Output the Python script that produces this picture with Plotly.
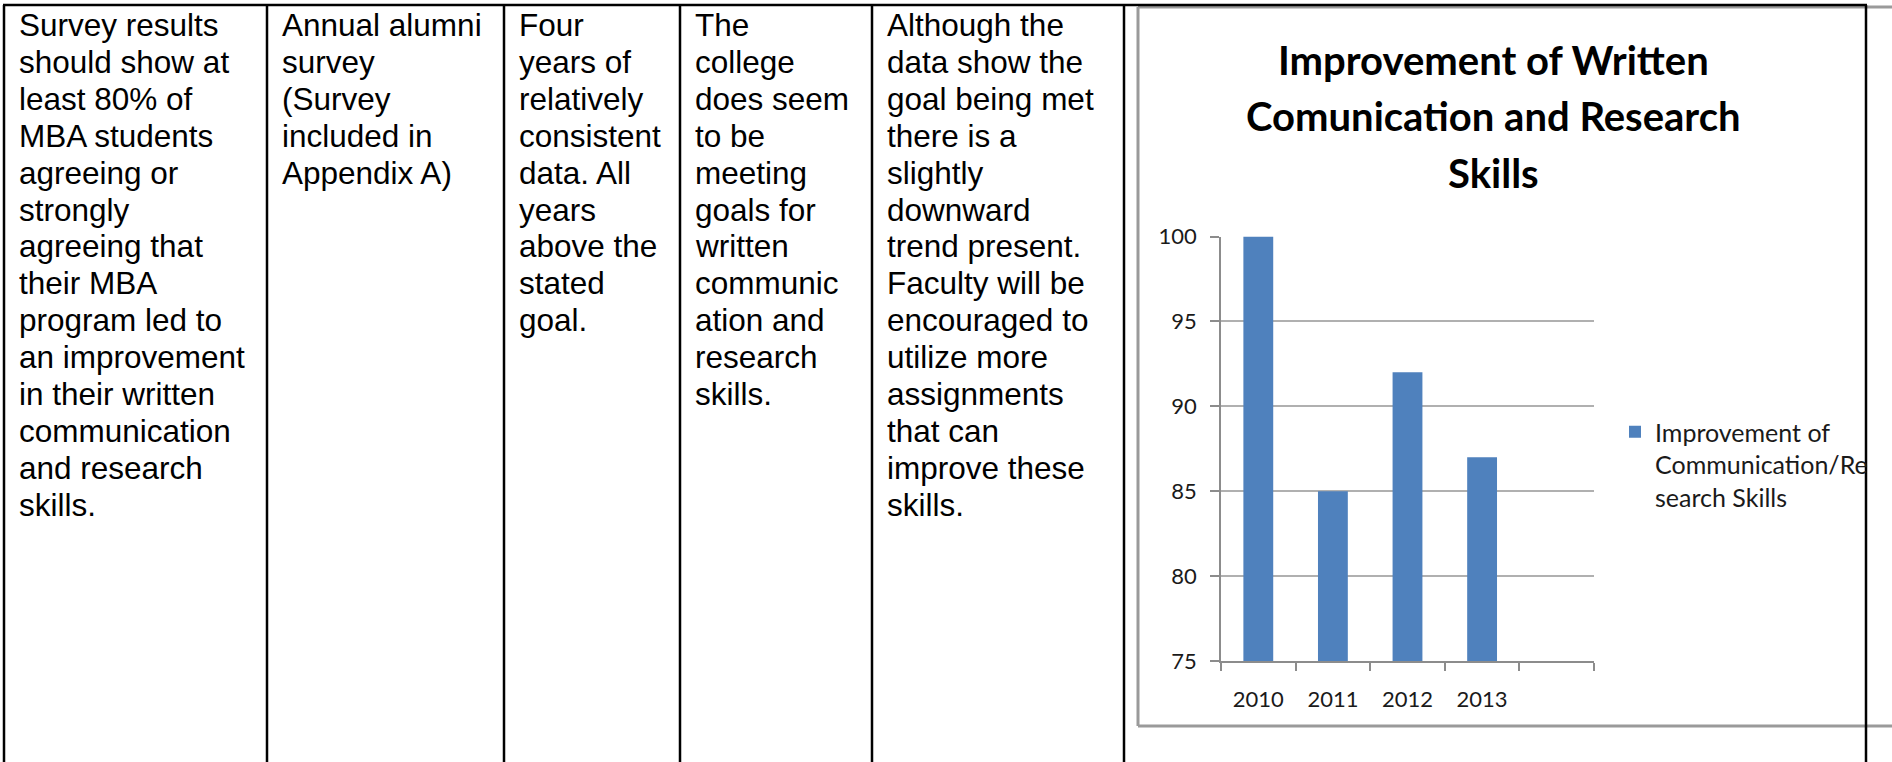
import numpy as np
import plotly.graph_objects as go

W, H = 1892, 762

# ---- chart data ----
years = ["2010", "2011", "2012", "2013"]
improvement = [100, 85, 92, 87]
series_name = "Improvement of<br>Communication/Re<br>search Skills"
title_lines = ["Improvement of Written", "Comunication and Research", "Skills"]
y_ticks = [75, 80, 85, 90, 95, 100]
n_slots = 5  # category slots on the x axis (last one left empty)

# ---- table cell text (one list of lines per column) ----
col_target = ["Survey results", "should show at", "least 80% of", "MBA students",
              "agreeing or", "strongly", "agreeing that", "their MBA",
              "program led to", "an improvement", "in their written",
              "communication", "and research", "skills."]
col_method = ["Annual alumni", "survey", "(Survey", "included in", "Appendix A)"]
col_data = ["Four", "years of", "relatively", "consistent", "data. All",
            "years", "above the", "stated", "goal."]
col_result = ["The", "college", "does seem", "to be", "meeting", "goals for",
              "written", "communic", "ation and", "research", "skills."]
col_action = ["Although the", "data show the", "goal being met", "there is a",
              "slightly", "downward", "trend present.", "Faculty will be",
              "encouraged to", "utilize more", "assignments", "that can",
              "improve these", "skills."]
table_columns = [col_target, col_method, col_data, col_result, col_action]

# table grid (pixel positions of the vertical rules)
col_edges = [4, 267, 504, 680, 872, 1124, 1866]
table_top = 5
text_top = 25
text_pad = 13
line_step = 36.9


def fx(px):
    return px / W


def fy(py):
    return 1 - py / H


fig = go.Figure()

fig.add_trace(go.Bar(
    x=list(range(len(years))),
    y=improvement,
    width=0.4,
    marker=dict(color="#4F81BD", line=dict(width=0)),
    name=series_name,
    showlegend=True,
))

shapes = []
# chart frame (runs off the right edge of the page)
frame_gray = "#9A9A9A"
frame_left, frame_top, frame_bottom = 1138, 7, 726
for x0, y0, x1, y1 in [(frame_left, frame_top, W + 20, frame_top),
                       (frame_left, frame_bottom, W + 20, frame_bottom),
                       (frame_left, frame_top, frame_left, frame_bottom)]:
    shapes.append(dict(type="line", xref="paper", yref="paper",
                       x0=fx(x0), x1=fx(x1), y0=fy(y0), y1=fy(y1),
                       line=dict(color=frame_gray, width=3), layer="below"))
# table rules
shapes.append(dict(type="line", xref="paper", yref="paper",
                   x0=fx(col_edges[0] - 1), x1=fx(col_edges[-1] + 1),
                   y0=fy(table_top), y1=fy(table_top),
                   line=dict(color="black", width=2.5), layer="above"))
for xe in col_edges:
    shapes.append(dict(type="line", xref="paper", yref="paper",
                       x0=fx(xe), x1=fx(xe), y0=fy(table_top), y1=fy(H + 5),
                       line=dict(color="black", width=2.5), layer="above"))

annotations = []
for ci, lines in enumerate(table_columns):
    for li, txt in enumerate(lines):
        annotations.append(dict(
            text=txt, xref="paper", yref="paper",
            x=fx(col_edges[ci] + text_pad), y=fy(text_top + li * line_step),
            xanchor="left", yanchor="middle", showarrow=False,
            font=dict(family="Liberation Sans, Arial", size=31.5, color="black"),
        ))

for k, txt in enumerate(title_lines):
    annotations.append(dict(
        text=txt, xref="paper", yref="paper",
        x=fx(1493), y=fy(60 + k * 56.5),
        xanchor="center", yanchor="middle", showarrow=False,
        font=dict(family="Lato", size=40, color="black", weight=700),
    ))

axis_gray = "#8C8C8C"
fig.update_layout(
    width=W, height=H,
    margin=dict(l=0, r=0, t=0, b=0, pad=0, autoexpand=False),
    paper_bgcolor="white", plot_bgcolor="white",
    shapes=shapes, annotations=annotations,
    showlegend=True,
    legend=dict(
        x=fx(1615), y=fy(409), xanchor="left", yanchor="top",
        font=dict(family="Lato", size=25, color="#1a1a1a"),
        bgcolor="rgba(0,0,0,0)", valign="top",
    ),
    xaxis=dict(
        domain=[fx(1221), fx(1594)],
        range=[-0.5, n_slots - 0.5],
        tickmode="array",
        tickvals=list(range(len(years))),
        ticktext=years,
        ticks="",
        showline=True, linecolor=axis_gray, linewidth=1.5,
        showgrid=False, zeroline=False,
        tickfont=dict(family="Lato", size=22, color="#1a1a1a"),
        ticklabelstandoff=18,
        minor=dict(
            tickmode="array",
            tickvals=list(np.arange(-0.5, n_slots, 1.0)),
            ticks="outside", ticklen=8, tickwidth=1.5, tickcolor=axis_gray,
            showgrid=False,
        ),
        fixedrange=True,
    ),
    yaxis=dict(
        domain=[fy(661), fy(236.5)],
        range=[75, 100],
        tickmode="array", tickvals=y_ticks,
        ticks="outside", ticklen=9, tickwidth=1.5, tickcolor=axis_gray,
        showline=True, linecolor=axis_gray, linewidth=1.5,
        showgrid=True, gridcolor="#B0B0B0", gridwidth=2,
        zeroline=False,
        tickfont=dict(family="Lato", size=22, color="#1a1a1a"),
        ticklabelstandoff=9,
        fixedrange=True,
    ),
)

fig.write_html("out.html")
